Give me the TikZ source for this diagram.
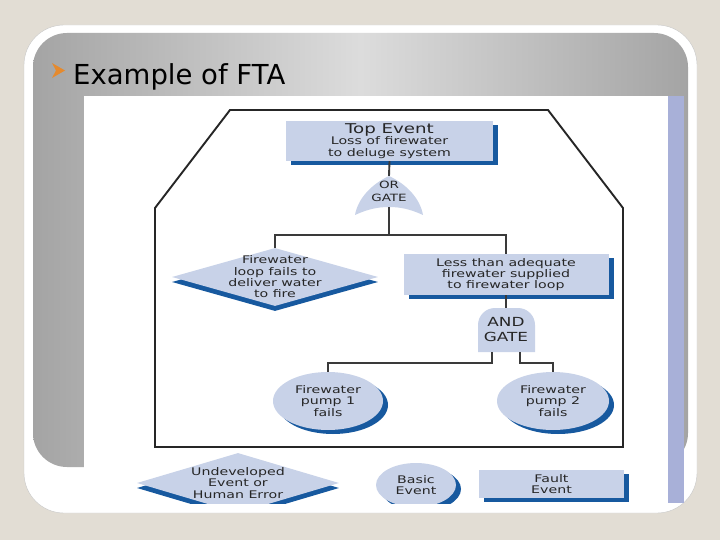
\documentclass[tikz,border=0pt]{standalone}
\usepackage{fontspec}
\setmainfont{DejaVu Sans}
\newfontfamily\ftafont[FakeStretch=1.35]{DejaVu Sans}
\usepackage{tikz}
\usetikzlibrary{shapes.geometric, shadows, positioning}
\definecolor{slidebg}{HTML}{E2DDD4}
\definecolor{slidegray}{HTML}{A4A4A4}
\definecolor{slidelight}{HTML}{DCDCDC}
\definecolor{stripe}{HTML}{A8B0D8}
\definecolor{evfill}{HTML}{C8D2E8}
\definecolor{evshadow}{HTML}{17599F}
\definecolor{wiregray}{HTML}{3A3A3A}
\definecolor{bullet}{HTML}{E58A2E}

\begin{document}
\begin{tikzpicture}[x=1pt, y=-1pt,
  evtext/.style={font=\ftafont\fontsize{10.5}{11.3}\selectfont, text=black!85, align=center},
  evbox/.style={evtext, rectangle, fill=evfill, inner sep=0pt, drop shadow={shadow xshift=5pt, shadow yshift=-4pt, fill=evshadow, opacity=1}},
  evbasic/.style={evtext, ellipse, fill=evfill, inner sep=0pt, drop shadow={shadow xshift=5pt, shadow yshift=-4pt, fill=evshadow, opacity=1}},
  evundev/.style={diamond, fill=evfill, inner sep=0pt, drop shadow={shadow xshift=0pt, shadow yshift=-5pt, fill=evshadow, opacity=1}},
  gate/.style={evtext, inner sep=0pt},
  wire/.style={draw=wiregray, line width=1.9pt},
]
\useasboundingbox (0,0) rectangle (720,540);

% Slide
\fill[slidebg] (0,0) rectangle (720,540);
\filldraw[fill=white, draw=black!22, rounded corners=40pt] (24,25) rectangle (697,513);
\shade[rounded corners=34pt, left color=slidegray, right color=slidegray, middle color=slidelight] (33,33) rectangle (688,467);
\fill[white] (84,96) rectangle (668,503);
\fill[stripe] (668,96) rectangle (684,503);

% Title
\fill[bullet] (52,63) -- (65,70.5) -- (52,78) -- (56,70.5) -- cycle;
\node[anchor=base west, font=\fontsize{27.5}{30}\selectfont, inner sep=0pt] (title) at (73,85) {Example of FTA};

% Outline
\draw[line width=1.9pt, draw=black!85] (230,110) -- (548,110) -- (623,208) -- (623,447) -- (155,447) -- (155,208) -- cycle;

% Top event and OR gate
\node[evbox, minimum width=207pt, minimum height=40pt] (topev) at (389.5,141) {{\fontsize{13.5}{14}\selectfont Top Event}\\Loss of firewater\\to deluge system};
\fill[evfill] (355,215) .. controls (358,198) and (372,184) .. (389,176) .. controls (406,184) and (420,198) .. (423,215) .. controls (410,209) and (400,207) .. (389,207) .. controls (378,207) and (368,209) .. (355,215) -- cycle;
\node[gate, font=\ftafont\fontsize{10}{13}\selectfont, minimum width=68pt, minimum height=31pt] (orgate) at (389,191.5) {OR\\GATE};

% Second level
\node[evundev, minimum width=206pt, minimum height=58pt, label={[evtext]center:Firewater\\loop fails to\\deliver water\\to fire}] (loopfail) at (275,277) {};
\node[evbox, minimum width=205pt, minimum height=41pt] (supply) at (506,274.5) {Less than adequate\\firewater supplied\\to firewater loop};

% AND gate
\fill[evfill, rounded corners=17pt] (478,352) -- (478,308) -- (535,308) -- (535,352);
\node[gate, font=\ftafont\fontsize{12.5}{15}\selectfont, minimum width=57pt, minimum height=44pt] (andgate) at (506,330) {AND\\GATE};

% Pumps
\node[evbasic, minimum width=110pt, minimum height=58pt] (pump1) at (328,401) {Firewater\\pump 1\\fails};
\node[evbasic, minimum width=112pt, minimum height=58pt] (pump2) at (553,401) {Firewater\\pump 2\\fails};

% Connectors
\draw[wire] (topev.south) -- (orgate.north);
\draw[wire] (orgate.south) -- ++(0,28) -| (loopfail.north);
\draw[wire] (orgate.south) ++(0,28) -| (supply.north);
\draw[wire] (supply.south) -- (andgate.north);
\draw[wire] ([xshift=-14pt]andgate.south) -- ++(0,11) -| (pump1.north);
\draw[wire] ([xshift=14pt]andgate.south) -- ++(0,11) -| (pump2.north);

% Legend
\begin{scope}
\clip (84,96) rectangle (668,503);
\node[evundev, minimum width=202pt, minimum height=60pt, label={[evtext]center:Undeveloped\\Event or\\Human Error}] (undev) at (238,483) {};
\node[evbasic, minimum width=80pt, minimum height=44pt] (basic) at (416,485) {Basic\\Event};
\node[evbox, minimum width=145pt, minimum height=28pt] (fault) at (551.5,484) {Fault\\Event};
\end{scope}

\end{tikzpicture}
\end{document}
